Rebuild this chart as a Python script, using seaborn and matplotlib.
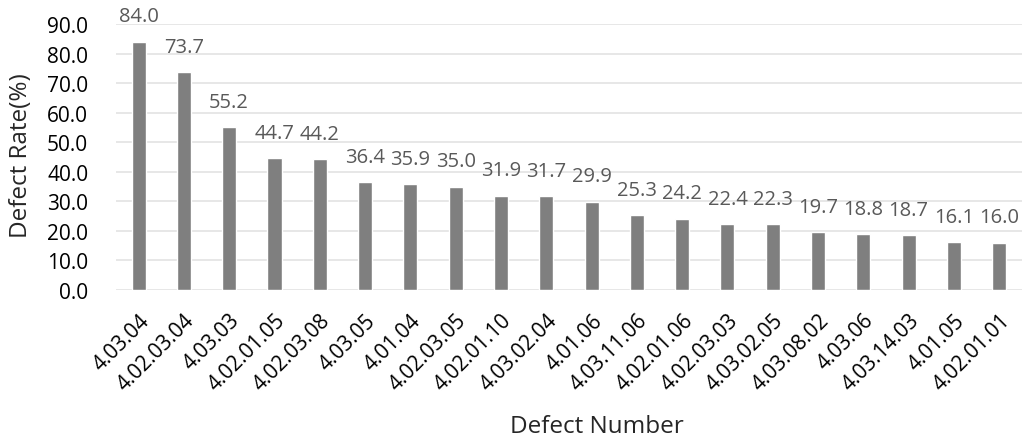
import matplotlib
matplotlib.use("Agg")
import matplotlib.pyplot as plt
import seaborn as sns
import pandas as pd

categories = ["4.03.04", "4.02.03.04", "4.03.03", "4.02.01.05", "4.02.03.08", "4.03.05",
              "4.01.04", "4.02.03.05", "4.02.01.10", "4.03.02.04", "4.01.06", "4.03.11.06",
              "4.02.01.06", "4.02.03.03", "4.03.02.05", "4.03.08.02", "4.03.06", "4.03.14.03",
              "4.01.05", "4.02.01.01"]
values = [84.0, 73.7, 55.2, 44.7, 44.2, 36.4, 35.9, 35.0, 31.9, 31.7, 29.9, 25.3,
          24.2, 22.4, 22.3, 19.7, 18.8, 18.7, 16.1, 16.0]
yticks = [0, 10, 20, 30, 40, 50, 60, 70, 80, 90]

sns.set_theme(style="white")
plt.rcParams['font.family'] = ['Open Sans', 'DejaVu Sans']

df = pd.DataFrame({"cat": categories, "val": values})
fig = plt.figure(figsize=(10.26, 4.39), dpi=100)
ax = fig.add_axes([0.113, 0.337, 0.883, 0.606])
sns.barplot(data=df, x="cat", y="val", color="#7f7f7f", saturation=1, width=0.31, ax=ax, zorder=3)
for p, v in zip(ax.patches, values):
    ax.annotate(f"{v:.1f}", (p.get_x() + p.get_width() / 2, v), xytext=(0, 11),
                textcoords="offset points", ha="center", va="bottom",
                fontsize=14.5, color="#595959")
ax.set_ylim(0, 90)
ax.set_yticks(yticks)
ax.set_yticklabels([f"{t:.1f}" for t in yticks], fontsize=15, color="black")
ax.yaxis.grid(True, color="#e3e3e3", linewidth=1.2, zorder=0)
ax.set_axisbelow(True)
for s in ax.spines.values():
    s.set_visible(False)
ax.tick_params(axis="y", length=0, pad=20)
ax.tick_params(axis="x", length=0, pad=14)
ax.set_xlim(-0.5, len(categories) - 0.5)
plt.setp(ax.get_xticklabels(), rotation=45, ha="right", rotation_mode="anchor", fontsize=15, color="black")
ax.set_xlabel("Defect Number", fontsize=17.5)
ax.set_ylabel("Defect Rate(%)", fontsize=17.5)
ax.xaxis.set_label_coords(0.531, -0.465)
ax.yaxis.set_label_coords(-0.092, 0.51)
fig.savefig("out.png", dpi=100)
